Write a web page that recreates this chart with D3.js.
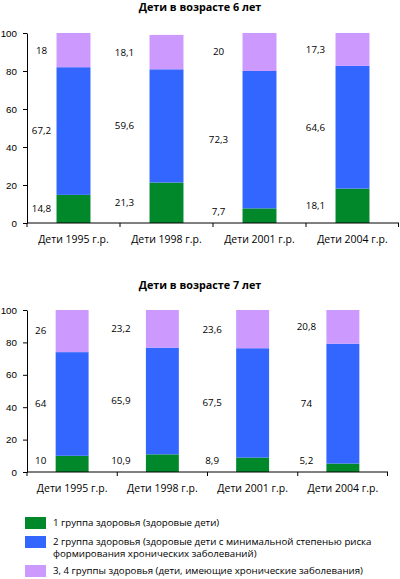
<!DOCTYPE html>
<html>
<head>
<meta charset="utf-8">
<script src="https://cdn.jsdelivr.net/npm/d3@7"></script>
<style>
  body { margin: 0; background: #fff; }
  svg { display: block; font-family: "Open Sans", sans-serif; }
  .tick text { font-size: 9.8px; fill: #000; }
  .val { font-size: 9.8px; fill: #000; }
  .cat { font-size: 10.5px; fill: #000; }
  .title { font-size: 10.8px; font-weight: bold; fill: #000; }
  .legend { font-size: 9.7px; fill: #000; }
</style>
</head>
<body>
<svg id="chart" width="400" height="579"></svg>
<script>
// data
const categories = ["Дети 1995 г.р.", "Дети 1998 г.р.", "Дети 2001 г.р.", "Дети 2004 г.р."];
const groups = ["g1", "g2", "g34"];
const groupNames = [
    "1 группа здоровья (здоровые дети)",
    "2 группа здоровья (здоровые дети с минимальной степенью риска|формирования хронических заболеваний)",
    "3, 4 группы здоровья  (дети, имеющие хронические заболевания)"
];
const colors = ["#00882b", "#3366ff", "#cc99ff"];

const age6_g1 = [14.8, 21.3, 7.7, 18.1];
const age6_g2 = [67.2, 59.6, 72.3, 64.6];
const age6_g34 = [18, 18.1, 20, 17.3];

const age7_g1 = [10, 10.9, 8.9, 5.2];
const age7_g2 = [64, 65.9, 67.5, 74];
const age7_g34 = [26, 23.2, 23.6, 20.8];

const yTicks = [0, 20, 40, 60, 80, 100];

// how far left of its bar each column's labels sit (layout)
const labelShift = [15, 25, 24, 20];

const svg = d3.select("#chart");
const color = d3.scaleOrdinal().domain(groups).range(colors);
const fmt = v => String(v).replace(".", ",");

function bar_chart(title, g1, g2, g34, box)
{
    const data = categories.map((c, i) => ({cat: c, g1: g1[i], g2: g2[i], g34: g34[i]}));
    const series = d3.stack().keys(groups)(data);

    const xScale = d3.scaleBand()
        .domain(categories)
        .range([box.left, box.right])
        .padding(0);

    const yScale = d3.scaleLinear()
        .domain([0, 100])
        .range([box.bottom, box.top]);

    const barW = xScale.bandwidth() * 0.365;
    const barX = c => xScale(c) + (xScale.bandwidth() - barW) / 2;

    const g = svg.append("g");

    // Title
    g.append("text")
        .attr("class", "title")
        .attr("x", 200)
        .attr("y", box.titleY)
        .attr("text-anchor", "middle")
        .text(title);

    // stacked bars
    g.selectAll(".layer")
        .data(series)
        .join("g")
        .attr("fill", d => color(d.key))
        .selectAll("rect")
        .data(d => d)
        .join("rect")
        .attr("x", d => barX(d.data.cat))
        .attr("y", d => yScale(d[1]))
        .attr("width", barW)
        .attr("height", d => yScale(d[0]) - yScale(d[1]));

    // value labels, left of each bar
    series.forEach(s => {
        g.selectAll(".val-" + s.key)
            .data(s)
            .join("text")
            .attr("class", "val")
            .attr("x", (d, i) => barX(d.data.cat) - labelShift[i])
            .attr("y", d => Math.min((yScale(d[0]) + yScale(d[1])) / 2, box.bottom - 11))
            .attr("dy", "0.35em")
            .attr("text-anchor", "middle")
            .text(d => fmt(d.data[s.key]));
    });

    // Y Axis
    const y_axis = d3.axisLeft(yScale).tickValues(yTicks).tickSize(4).tickSizeOuter(0).tickPadding(6);
    const ya = g.append("g")
        .attr("transform", `translate(${box.left}, 0)`)
        .call(y_axis);
    ya.select(".domain").attr("stroke", "#000");
    ya.selectAll(".tick line").attr("stroke", "#000");

    // X Axis: line with ticks between categories
    g.append("line")
        .attr("x1", box.left).attr("x2", box.right)
        .attr("y1", box.bottom).attr("y2", box.bottom)
        .attr("stroke", "#000");

    const bounds = categories.map(c => xScale(c)).concat([box.right - 0.5]);
    g.selectAll(".xtick")
        .data(bounds)
        .join("line")
        .attr("x1", d => d).attr("x2", d => d)
        .attr("y1", box.bottom).attr("y2", box.bottom + 4)
        .attr("stroke", "#000");

    g.selectAll(".cat")
        .data(categories)
        .join("text")
        .attr("class", "cat")
        .attr("x", d => xScale(d) + xScale.bandwidth() / 2)
        .attr("y", box.bottom + 20)
        .attr("text-anchor", "middle")
        .text(d => d);
}

bar_chart("Дети в возрасте 6 лет", age6_g1, age6_g2, age6_g34,
    {left: 27, right: 399, top: 33, bottom: 223, titleY: 11});
bar_chart("Дети в возрасте 7 лет", age7_g1, age7_g2, age7_g34,
    {left: 27, right: 388, top: 310, bottom: 472, titleY: 289});

// Legend
const rowY = [523, 542, 571];
const legend_items = svg.append("g")
    .selectAll("g")
    .data(groups)
    .join("g")
    .attr("transform", (d, i) => `translate(25, ${rowY[i]})`);

legend_items.append("rect")
    .attr("y", -6)
    .attr("width", 21)
    .attr("height", 12)
    .attr("fill", d => color(d));

legend_items.append("text")
    .attr("class", "legend")
    .attr("x", 28)
    .selectAll("tspan")
    .data((d, i) => groupNames[i].split("|"))
    .join("tspan")
    .attr("x", 28)
    .attr("y", (d, j) => j * 11.5)
    .attr("dy", "0.35em")
    .text(d => d);
</script>
</body>
</html>
